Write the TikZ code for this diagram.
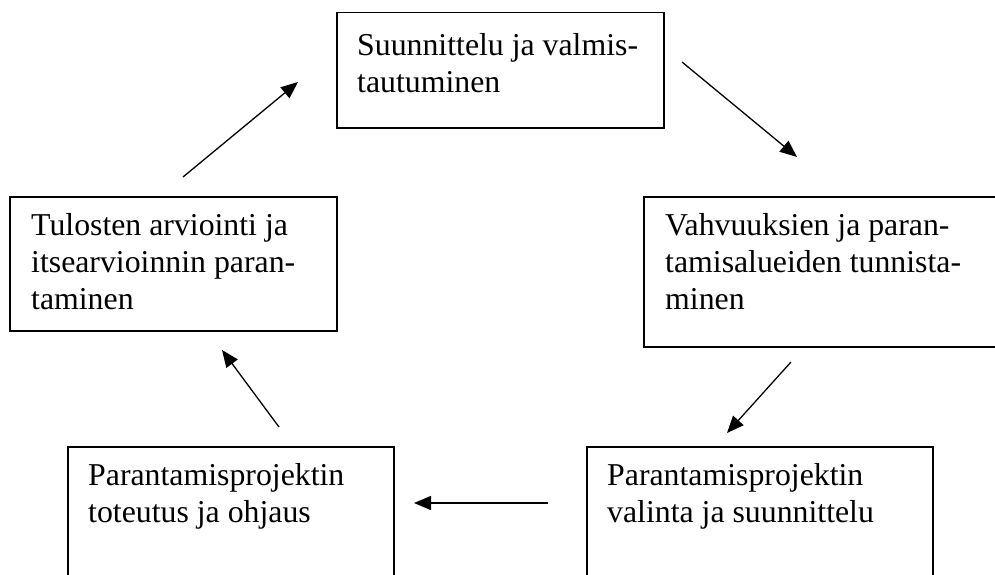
\documentclass[tikz,border=0pt]{standalone}
\usepackage{fontspec}
\setmainfont{Liberation Serif}
\usetikzlibrary{arrows.meta}
\begin{document}
\begin{tikzpicture}[x=1pt,y=-1pt,
  stage/.style={draw, line width=1.5pt, rectangle, inner sep=0pt, anchor=north west},
  label/.style={anchor=north west, inner sep=0pt, align=left,
    font=\fontsize{31.8}{37.2}\selectfont},
  flow/.style={line width=1.3pt, -{Triangle[length=17pt,width=14pt]}}]
  % page frame
  \clip (0,0) rectangle (995,575);
  \fill[white] (0,0) rectangle (995,575);

  % stage boxes
  \node[stage, minimum width=327pt, minimum height=115pt] (b1) at (336,12) {};
  \node[stage, minimum width=370pt, minimum height=150pt] (b2) at (643,196) {};
  \node[stage, minimum width=327pt, minimum height=134pt] (b3) at (9,196) {};
  \node[stage, minimum width=326pt, minimum height=150pt] (b4) at (67,446) {};
  \node[stage, minimum width=346pt, minimum height=150pt] (b5) at (586,446) {};

  % stage texts
  \node[label] (t1) at ([shift={(21pt,-17pt)}]b1.north west) {\strut Suunnittelu ja valmis-\\tautuminen};
  \node[label] (t2) at ([shift={(22pt,-13pt)}]b2.north west) {\strut Vahvuuksien ja paran-\\tamisalueiden tunnista-\\minen};
  \node[label] (t3) at ([shift={(22pt,-13pt)}]b3.north west) {\strut Tulosten arviointi ja\\itsearvioinnin paran-\\taminen};
  \node[label] (t4) at ([shift={(21pt,-13pt)}]b4.north west) {\strut Parantamisprojektin\\toteutus ja ohjaus};
  \node[label] (t5) at ([shift={(21pt,-13pt)}]b5.north west) {\strut Parantamisprojektin\\valinta ja suunnittelu};

  % arrow end points
  \coordinate (a1s) at (183,177); \coordinate (a1e) at (298,82);
  \coordinate (a2s) at (682,62);  \coordinate (a2e) at (797,157);
  \coordinate (a3s) at (791,362); \coordinate (a3e) at (727,433);
  \coordinate (a4s) at (548,503); \coordinate (a4e) at (414,503);
  \coordinate (a5s) at (279,427); \coordinate (a5e) at (222,350);

  % cycle arrows
  \draw[flow] (a1s) -- (a1e);
  \draw[flow] (a2s) -- (a2e);
  \draw[flow] (a3s) -- (a3e);
  \draw[flow] (a4s) -- (a4e);
  \draw[flow] (a5s) -- (a5e);
\end{tikzpicture}
\end{document}
